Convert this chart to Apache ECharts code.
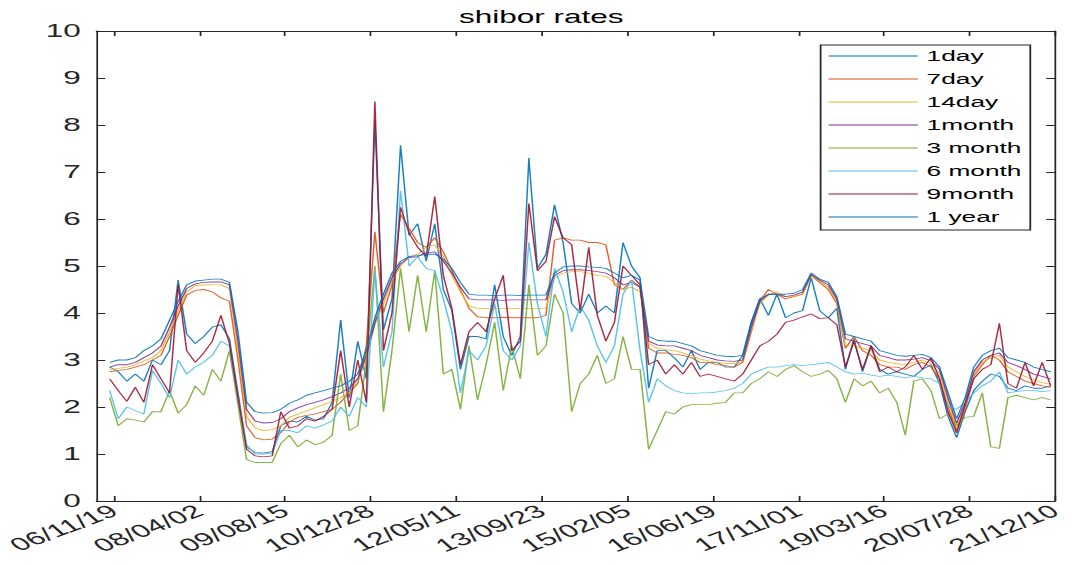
<!DOCTYPE html>
<html><head><meta charset="utf-8">
<script src="https://cdn.jsdelivr.net/npm/echarts@6/dist/echarts.min.js"></script>
<style>
html,body{margin:0;padding:0;background:#fff;overflow:hidden;}
#wrap{width:1072px;height:565px;overflow:hidden;background:#fff;}
#chart{width:612px;height:565px;transform:scaleX(1.7516);transform-origin:0 0;}
</style></head>
<body><div id="wrap"><div id="chart"></div></div>
<script>
// tick labels (yy/mm/dd) and their positions in days after 2006-11-19
const tickLabels = ['06/11/19','08/04/02','09/08/15','10/12/28','12/05/11','13/09/23','15/02/05','16/06/19','17/11/01','19/03/16','20/07/28','21/12/10'];
const tickDays = [0,500,1000,1500,2000,2500,3000,3500,4000,4500,5000,5500];
const axisStartDay = -102, axisEndDay = 5500;
// samples: first sample day and spacing (days after 2006-11-19)
const sampleStartDay = -25, sampleStepDays = 50;

const seriesNames = ['1day','7day','14day','1month','3 month','6 month','9month','1 year'];

const rate1day = [2.85,2.75,2.55,2.7,2.55,3.0,2.9,3.2,4.7,3.55,
3.35,3.5,3.7,3.75,3.45,2.3,1.15,1.03,1.02,1.05,
1.6,1.7,1.68,1.8,1.72,1.75,2.1,3.85,2.2,3.4,
2.6,8.1,3.64,4.3,7.57,5.65,5.9,5.1,5.9,4.5,
4.05,2.8,3.5,3.5,3.45,4.6,3.5,3.1,3.5,7.3,
4.95,5.25,6.3,5.5,4.2,4.0,4.4,4.0,4.15,4.0,
5.5,5.0,4.75,2.4,3.2,3.2,3.05,2.85,3.2,2.8,
2.95,2.95,2.85,2.85,3.1,3.8,4.3,3.95,4.4,3.9,
4.0,4.05,4.75,4.05,3.9,4.1,2.8,3.45,2.75,3.3,
2.8,2.7,2.75,2.7,2.65,2.8,2.9,2.5,1.8,1.35,
1.9,2.35,2.55,2.7,2.65,2.4,2.35,2.45,2.4,2.4,2.45];

const rate7day = [2.75,2.78,2.8,2.85,2.9,3.0,3.1,3.5,3.95,4.38,
4.48,4.5,4.45,4.32,4.25,3.0,1.6,1.35,1.3,1.32,
1.45,1.68,1.78,1.82,1.85,1.9,1.95,2.1,2.3,2.5,
3.3,5.73,4.0,4.6,6.1,5.8,5.5,5.4,5.6,5.3,
4.9,4.5,4.1,3.92,3.9,3.9,3.91,3.9,3.9,3.9,
3.9,3.95,5.55,5.6,5.55,5.55,5.5,5.5,5.45,4.6,
4.5,4.7,4.55,3.25,3.15,3.15,3.12,3.1,3.05,2.95,
2.95,2.9,2.88,2.85,2.95,3.6,4.25,4.5,4.4,4.3,
4.35,4.4,4.8,4.65,4.5,4.2,3.25,3.5,3.2,3.1,
2.9,2.85,2.85,2.8,2.9,2.95,2.85,2.6,2.0,1.5,
1.95,2.65,2.9,3.1,3.0,2.75,2.65,2.55,2.5,2.45,2.42];

const rate14day = [2.8,2.82,2.85,2.9,2.98,3.05,3.2,3.6,4.05,4.45,
4.58,4.6,4.6,4.6,4.52,3.2,1.8,1.55,1.5,1.52,
1.6,1.78,1.85,1.92,1.98,2.05,2.12,2.2,2.3,2.55,
3.05,3.75,4.2,4.7,5.0,5.2,5.25,5.4,5.45,5.2,
4.8,4.45,4.15,4.1,4.1,4.1,4.1,4.1,4.1,4.1,
4.1,4.1,4.75,4.85,4.88,4.88,4.85,4.8,4.78,4.65,
4.5,4.55,4.45,3.35,3.25,3.22,3.2,3.15,3.1,3.02,
2.98,2.95,2.93,2.92,2.97,3.65,4.2,4.38,4.45,4.35,
4.35,4.42,4.8,4.68,4.55,4.25,3.3,3.3,3.25,3.2,
3.0,2.95,2.92,2.9,2.95,3.0,2.92,2.72,2.1,1.58,
2.0,2.7,2.95,3.05,3.1,2.85,2.75,2.65,2.58,2.52,2.48];

const rate1month = [2.85,2.9,2.9,2.95,3.05,3.15,3.3,3.7,4.15,4.52,
4.62,4.65,4.66,4.66,4.6,3.4,1.95,1.7,1.66,1.67,
1.75,1.9,1.98,2.05,2.1,2.15,2.22,2.3,2.4,2.6,
3.1,3.8,4.3,4.75,5.05,5.18,5.2,5.28,5.3,5.1,
4.85,4.55,4.3,4.28,4.28,4.28,4.27,4.28,4.28,4.28,
4.28,4.28,4.8,4.9,4.92,4.92,4.9,4.88,4.85,4.75,
4.6,4.65,4.55,3.4,3.32,3.3,3.3,3.25,3.2,3.1,
3.05,3.0,2.98,2.97,3.0,3.7,4.25,4.4,4.4,4.35,
4.38,4.45,4.82,4.7,4.6,4.3,3.45,3.4,3.35,3.3,
3.1,3.05,3.0,3.0,3.02,3.05,2.98,2.8,2.2,1.65,
2.1,2.75,3.0,3.1,3.15,2.95,2.88,2.8,2.7,2.65,2.6];

const rate3month = [2.2,1.6,1.75,1.72,1.68,1.9,1.9,2.35,1.87,2.05,
2.45,2.25,2.8,2.55,3.2,2.05,0.88,0.82,0.82,0.82,
1.22,1.4,1.15,1.3,1.2,1.25,1.4,2.7,1.5,1.6,
3.0,5.0,1.9,3.2,4.95,3.6,4.8,3.6,4.9,2.7,
2.8,1.95,3.3,2.15,2.9,3.8,2.35,3.3,2.6,4.6,
3.1,3.3,4.4,4.0,1.9,2.5,2.7,3.1,2.5,2.6,
3.5,2.8,2.8,1.1,1.5,1.9,1.85,2.0,2.05,2.05,
2.05,2.08,2.1,2.3,2.3,2.5,2.6,2.75,2.65,2.8,
2.88,2.75,2.65,2.7,2.78,2.6,2.1,2.6,2.45,2.55,
2.3,2.4,2.1,1.4,2.55,2.6,2.35,1.75,1.85,1.6,
1.78,1.8,2.3,1.15,1.12,2.2,2.25,2.2,2.15,2.2,2.15];

const rate6month = [2.35,1.75,2.0,1.92,1.85,2.78,2.5,2.2,3.0,2.7,
2.85,2.95,3.1,3.4,3.3,2.2,1.2,1.0,1.0,1.02,
1.5,1.5,1.45,1.6,1.55,1.62,1.7,2.0,1.8,2.2,
2.0,4.9,2.85,3.6,6.6,5.0,5.2,4.95,4.9,4.3,
3.6,2.3,3.2,3.0,3.3,4.2,3.2,3.0,3.3,5.5,
4.2,3.5,4.95,4.45,3.6,4.15,3.85,3.3,2.95,3.3,
4.4,4.7,3.2,2.1,2.6,2.45,2.35,2.3,2.28,2.3,
2.3,2.32,2.35,2.4,2.5,2.7,2.78,2.85,2.85,2.88,
2.9,2.88,2.9,2.92,2.95,2.85,2.75,2.7,2.72,2.68,
2.65,2.68,2.65,2.62,2.65,2.62,2.6,2.5,2.0,1.95,
2.1,2.3,2.45,2.55,2.75,2.3,2.33,2.35,2.35,2.33,2.35];

const rate9month = [2.6,2.35,2.12,2.42,2.1,2.9,2.6,2.3,4.6,3.2,
2.95,3.15,3.4,3.95,3.35,2.2,1.1,0.96,0.94,0.96,
1.9,1.55,1.6,1.75,1.7,1.8,1.95,3.2,2.0,3.0,
2.1,8.5,3.2,4.0,6.25,5.7,5.4,5.2,6.48,4.8,
4.1,2.9,3.6,3.8,3.6,4.3,4.8,3.2,3.4,6.33,
4.9,5.1,6.05,5.6,5.45,4.05,5.4,3.95,3.4,3.8,
5.0,4.8,4.6,2.9,3.0,2.7,2.9,2.7,2.95,2.65,
2.7,2.65,2.6,2.55,2.7,3.0,3.3,3.4,3.55,3.8,
3.85,3.92,3.98,3.88,3.9,3.75,2.85,3.4,2.8,3.3,
2.75,2.85,2.75,2.85,3.1,2.8,3.05,2.6,1.9,1.45,
2.05,2.6,2.8,2.9,3.78,2.5,2.4,2.95,2.45,2.95,2.45];

const rate1year = [2.95,3.0,3.0,3.05,3.2,3.3,3.45,3.85,4.25,4.6,
4.68,4.7,4.72,4.72,4.65,3.6,2.1,1.9,1.87,1.88,
1.95,2.08,2.15,2.25,2.3,2.35,2.4,2.45,2.55,2.7,
3.2,3.9,4.4,4.85,5.1,5.2,5.22,5.25,5.25,5.15,
4.95,4.65,4.4,4.38,4.38,4.37,4.38,4.38,4.37,4.38,
4.38,4.38,4.85,4.98,5.0,5.0,4.98,4.97,4.95,4.85,
4.75,4.8,4.7,3.5,3.42,3.4,3.4,3.35,3.3,3.2,
3.15,3.1,3.08,3.07,3.1,3.8,4.3,4.4,4.4,4.4,
4.42,4.5,4.85,4.72,4.65,4.35,3.55,3.5,3.45,3.4,
3.2,3.15,3.1,3.08,3.1,3.12,3.05,2.85,2.3,1.75,
2.2,2.85,3.1,3.2,3.25,3.05,3.0,2.95,2.85,2.8,2.75];

const allRates = [rate1day,rate7day,rate14day,rate1month,rate3month,rate6month,rate9month,rate1year];
const colors = ['#0072BD','#D95319','#EDB120','#7E2F8E','#77AC30','#4DBEEE','#A2142F','#0072BD'];

const FONT = '"Liberation Sans", Arial, Helvetica, sans-serif';
const AX = '#262626';

const chart = echarts.init(document.getElementById('chart'), null, {renderer:'svg'});

const series = allRates.map((arr, k) => ({
  name: seriesNames[k],
  type: 'line',
  xAxisIndex: 0, yAxisIndex: 0,
  symbol: 'none', showSymbol: false,
  animation: false,
  data: arr.map((v, i) => [sampleStartDay + i * sampleStepDays, v]),
  lineStyle: {color: colors[k], width: 0.85, opacity: 0.9},
  itemStyle: {color: colors[k]},
  emphasis: {disabled: true}
}));

const xCommon = {
  type: 'value', min: axisStartDay, max: axisEndDay,
  axisLine: {show: true, onZero: false, lineStyle: {color: AX, width: 1}},
  axisTick: {show: true, inside: true, length: 5, customValues: tickDays, lineStyle: {color: AX, width: 1}},
  splitLine: {show: false}
};
const yCommon = {
  type: 'value', min: 0, max: 10, interval: 1,
  axisLine: {show: true, onZero: false, lineStyle: {color: AX, width: 1}},
  axisTick: {show: true, inside: true, length: 5, lineStyle: {color: AX, width: 1}},
  splitLine: {show: false}
};

chart.setOption({
  animation: false,
  backgroundColor: '#fff',
  title: {
    text: 'shibor rates', left: 304, top: 3, textAlign: 'center',
    textStyle: {fontFamily: FONT, fontSize: 18, fontWeight: 'normal', color: '#000'}
  },
  grid: {left: 50.24, right: 9.7, top: 31, bottom: 64, containLabel: false},
  legend: {
    orient: 'vertical', left: 468.5, top: 45,
    icon: 'rect', itemWidth: 51, itemHeight: 1.1, itemGap: 7,
    padding: [3, 5, 5, 4.5],
    backgroundColor: '#fff', borderColor: AX, borderWidth: 1, borderRadius: 0,
    selectedMode: false,
    textStyle: {fontFamily: FONT, fontSize: 15, lineHeight: 16, color: '#000'},
    data: seriesNames
  },
  xAxis: [
    Object.assign({}, xCommon, {
      position: 'bottom',
      axisLabel: {
        customValues: tickDays, rotate: 33, margin: 8,
        fontFamily: FONT, fontSize: 18, color: AX,
        formatter: v => { const k = tickDays.indexOf(Math.round(v)); return k >= 0 ? tickLabels[k] : ''; }
      }
    }),
    Object.assign({}, xCommon, {position: 'top', axisLabel: {show: false}})
  ],
  yAxis: [
    Object.assign({}, yCommon, {
      position: 'left',
      axisLabel: {fontFamily: FONT, fontSize: 18, color: AX, margin: 9}
    }),
    Object.assign({}, yCommon, {position: 'right', axisLabel: {show: false}})
  ],
  series: series
});
</script>
</body></html>
